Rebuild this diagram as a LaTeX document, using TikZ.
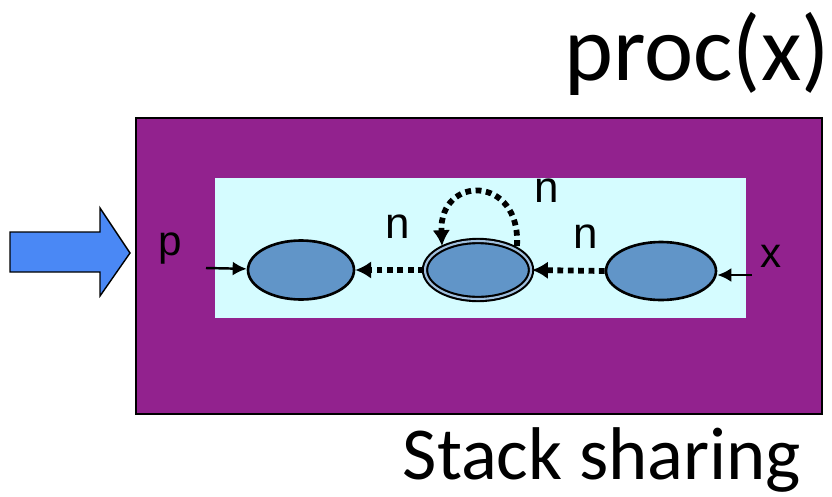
\documentclass[tikz,border=0pt]{standalone}
\usepackage{fontspec}
\setmainfont{Carlito}
\newfontfamily\arial{Liberation Sans}
\usepackage{tikz}
\usepackage{xcolor}
\usetikzlibrary{shapes,arrows.meta}

\definecolor{frame}{RGB}{146,34,142}
\definecolor{heap}{RGB}{213,252,255}
\definecolor{cell}{RGB}{97,149,200}
\definecolor{entry}{RGB}{74,136,245}

\begin{document}
\begin{tikzpicture}
	\tikzstyle{cell}=[ellipse,draw,line width=1.5pt,fill=cell,minimum width=2.12cm,minimum height=1.18cm]
	\tikzstyle{shared}=[cell,double=cell!60!white,double distance=1.2pt,line width=1.2pt,minimum width=2.12cm,minimum height=1.16cm]
	\tikzstyle{var}=[font=\arial\fontsize{24}{28}\selectfont]
	\tikzstyle{field}=[font=\arial\fontsize{25}{28}\selectfont]
	\tikzstyle{pointer}=[-{Latex[length=8pt,width=8pt]},line width=1.4pt]
	\tikzstyle{link}=[-{Latex[length=9pt,width=10pt]},line width=3.3pt,dash pattern=on 3.3pt off 2.6pt]
	\useasboundingbox (0,0) rectangle (16.64,9.92);
	
	% frame and heap
	\filldraw[fill=frame,draw=black,line width=0.6pt] (2.72,1.64) rectangle (16.44,7.56);
	\fill[heap] (4.30,3.56) rectangle (14.92,6.36);
	
	% call arrow
	\filldraw[fill=entry,draw=black,line width=0.8pt] (0.2,4.48) -- (2.0,4.48) -- (2.0,4.0) -- (2.6,4.86)
		-- (2.0,5.76) -- (2.0,5.28) -- (0.2,5.28) -- cycle;
	
	\node [cell] (first) at (6.02,4.52) {};
	\node [shared] (mid) at (9.56,4.52) {};
	\node [cell,minimum width=2.2cm,minimum height=1.16cm] (last) at (13.22,4.50) {};
	
	\node [var] (p) at (3.4,4.95) {p};
	\node [var] (x) at (15.42,4.8) {x};
	\coordinate (pin) at (4.12,4.56);
	\coordinate (xin) at (15.04,4.42);
	\draw [pointer] (pin) -- (first);
	\draw [pointer] (xin) -- (last.east |- xin);
	
	\draw [link] (mid.west) -- (first.east);
	\draw [link] (last.west) -- (mid.east);
	\coordinate (loopout) at (10.34,5.0);
	\coordinate (loopin) at (8.84,5.0);
	\draw [link] (loopout) .. controls (10.42,6.43) and (8.78,6.43) .. (loopin);
	
	\node [field] (n1) at (7.96,5.38) {n};
	\node [field] (n2) at (11.72,5.18) {n};
	\node [field] (n3) at (10.94,6.1) {n};
	
	\node [font=\fontsize{53}{58}\selectfont,anchor=east] (title) at (16.72,8.84) {proc(x)};
	\node [font=\fontsize{42.5}{48}\selectfont] (caption) at (12.04,0.72) {Stack sharing};
\end{tikzpicture}
\end{document}
